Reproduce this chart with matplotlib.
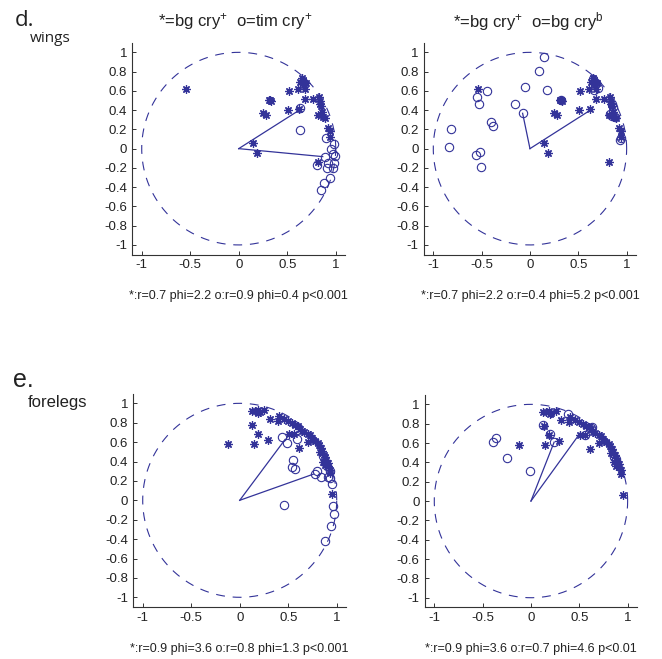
import numpy as np
import matplotlib
matplotlib.use("Agg")
import matplotlib.pyplot as plt

plt.rcParams['font.family'] = ['Liberation Sans', 'DejaVu Sans']
plt.rcParams['axes.unicode_minus'] = False
plt.rcParams['mathtext.default'] = 'regular'

BLUE = '#333399'

# wings, bg cry+ (stars, same in both top panels)
wing_bg_x = [-0.54, 0.145, 0.185, 0.31, 0.32, 0.33, 0.25, 0.28, 0.52, 0.51, 0.625,
             0.65, 0.66, 0.63, 0.67, 0.68, 0.615, 0.69, 0.68, 0.77,
             0.83, 0.84, 0.845, 0.855, 0.85, 0.87, 0.82, 0.89, 0.84,
             0.925, 0.94, 0.94, 0.82]
wing_bg_y = [0.62, 0.055, -0.05, 0.50, 0.51, 0.49, 0.37, 0.345, 0.60, 0.40, 0.41,
             0.73, 0.71, 0.69, 0.66, 0.62, 0.62, 0.68, 0.52, 0.515,
             0.54, 0.49, 0.44, 0.38, 0.35, 0.33, 0.35, 0.32, 0.46,
             0.21, 0.18, 0.125, -0.14]

# wings, tim cry+ (circles)
wing_tim_x = [0.63, 0.63, 0.90, 0.985, 0.95, 0.97, 0.99, 0.89, 0.81, 0.92, 0.98,
              0.91, 0.97, 0.94, 0.88, 0.85]
wing_tim_y = [0.425, 0.19, 0.115, 0.05, 0.0, -0.06, -0.08, -0.085, -0.17, -0.15, -0.15,
              -0.20, -0.20, -0.31, -0.36, -0.43]

# wings, bg cry^b (circles)
wing_cryb_x = [0.145, 0.09, -0.05, 0.18, -0.15, -0.076, -0.44, -0.545, -0.53, -0.40, -0.38,
               -0.82, -0.84, -0.56, -0.52, -0.51, 0.32, 0.65, 0.68, 0.70, 0.66,
               0.85, 0.86, 0.83, 0.85, 0.88, 0.94, 0.93]
wing_cryb_y = [0.955, 0.81, 0.64, 0.61, 0.46, 0.367, 0.60, 0.54, 0.46, 0.28, 0.23,
               0.20, 0.02, -0.07, -0.04, -0.19, 0.50, 0.72, 0.68, 0.63, 0.61,
               0.46, 0.43, 0.36, 0.34, 0.33, 0.11, 0.09]

# forelegs, bg cry+ (stars, same in both bottom panels)
leg_bg_x = [-0.12, 0.124, 0.158, 0.186, 0.21, 0.254, 0.192, 0.13, 0.31, 0.39, 0.19, 0.15,
            0.295, 0.61, 0.51, 0.56,
            0.40, 0.46, 0.495, 0.536, 0.57, 0.60, 0.62, 0.646, 0.667, 0.70, 0.725, 0.742,
            0.777, 0.804, 0.818, 0.838, 0.852, 0.866, 0.88, 0.89, 0.907, 0.914, 0.928, 0.935,
            0.70, 0.76, 0.83, 0.86, 0.88, 0.955]
leg_bg_y = [0.58, 0.924, 0.917, 0.935, 0.91, 0.935, 0.90, 0.78, 0.84, 0.82, 0.68, 0.58,
            0.625, 0.54, 0.68, 0.68,
            0.866, 0.84, 0.82, 0.797, 0.78, 0.763, 0.74, 0.718, 0.704, 0.684, 0.67, 0.643,
            0.615, 0.591, 0.567, 0.54, 0.505, 0.471, 0.443, 0.419, 0.385, 0.35, 0.316, 0.282,
            0.60, 0.62, 0.50, 0.40, 0.36, 0.06]

# forelegs, tim cry+ (circles)
leg_tim_x = [0.433, 0.485, 0.588, 0.55, 0.536, 0.57, 0.80, 0.78, 0.84, 0.907, 0.93, 0.93,
             0.955, 0.46, 0.965, 0.976, 0.94, 0.88, 0.86, 0.88, 0.90]
leg_tim_y = [0.65, 0.59, 0.636, 0.42, 0.34, 0.323, 0.306, 0.27, 0.244, 0.237, 0.30, 0.23,
             0.168, -0.05, -0.062, -0.137, -0.26, -0.42, 0.46, 0.40, 0.35]

# forelegs, bg cry^b (circles)
leg_cryb_x = [-0.365, -0.397, -0.245, -0.01, 0.128, 0.197, 0.24, 0.386, 0.56, 0.63, 0.86, 0.88, 0.62]
leg_cryb_y = [0.655, 0.61, 0.445, 0.307, 0.79, 0.69, 0.61, 0.90, 0.686, 0.77, 0.46, 0.43, 0.76]

# mean vectors (x, y) for stars and circles in each panel
mean_star = [(0.625, 0.40), (0.625, 0.40), (0.47, 0.63), (0.507, 0.70)]
mean_circ = [(0.866, -0.083), (-0.076, 0.367), (0.76, 0.27), (0.24, 0.61)]

titles = [r'*=bg cry$^{+}$  o=tim cry$^{+}$', r'*=bg cry$^{+}$  o=bg cry$^{b}$']
stats = ['*:r=0.7 phi=2.2 o:r=0.9 phi=0.4 p<0.001',
         '*:r=0.7 phi=2.2 o:r=0.4 phi=5.2 p<0.001',
         '*:r=0.9 phi=3.6 o:r=0.8 phi=1.3 p<0.001',
         '*:r=0.9 phi=3.6 o:r=0.7 phi=4.6 p<0.01']

xticks = [-1, -0.5, 0, 0.5, 1]
xticklabels = ['-1', '-0.5', '0', '0.5', '1']
yticks = [-1, -0.8, -0.6, -0.4, -0.2, 0, 0.2, 0.4, 0.6, 0.8, 1]
yticklabels = ['-1', '-0.8', '-0.6', '-0.4', '-0.2', '0', '0.2', '0.4', '0.6', '0.8', '1']

fig = plt.figure(figsize=(6.62, 6.59), dpi=100)

positions = [[0.1994, 0.6137, 0.3224, 0.3215],
             [0.6399, 0.6137, 0.3213, 0.3215],
             [0.2009, 0.0789, 0.3224, 0.3238],
             [0.6414, 0.0783, 0.3213, 0.3228]]

panels = [(wing_bg_x, wing_bg_y, wing_tim_x, wing_tim_y),
          (wing_bg_x, wing_bg_y, wing_cryb_x, wing_cryb_y),
          (leg_bg_x, leg_bg_y, leg_tim_x, leg_tim_y),
          (leg_bg_x, leg_bg_y, leg_cryb_x, leg_cryb_y)]

theta = np.linspace(0, 2 * np.pi, 400)
for i, (sx, sy, cx, cy) in enumerate(panels):
    ax = fig.add_axes(positions[i])
    ax.plot(np.cos(theta), np.sin(theta), '--', color=BLUE, lw=0.8, dashes=(8, 7))
    ax.plot(sx, sy, linestyle='none', marker=(8, 2, 0), ms=6, color=BLUE, mew=0.9)
    ax.plot(cx, cy, linestyle='none', marker='o', ms=6, mfc='none', mec=BLUE, mew=0.8)
    ax.plot([0, mean_star[i][0]], [0, mean_star[i][1]], color=BLUE, lw=0.9)
    ax.plot([0, mean_circ[i][0]], [0, mean_circ[i][1]], color=BLUE, lw=0.9)
    ax.set_xlim(-1.1, 1.1)
    ax.set_ylim(-1.1, 1.1)
    ax.set_xticks(xticks)
    ax.set_xticklabels(xticklabels)
    ax.set_yticks(yticks)
    ax.set_yticklabels(yticklabels)
    for s in ['top', 'right']:
        ax.spines[s].set_visible(False)
    for s in ['left', 'bottom']:
        ax.spines[s].set_color('#333333')
        ax.spines[s].set_linewidth(0.8)
    ax.tick_params(direction='in', length=3, width=0.7, colors='#333333',
                   labelsize=9.5, labelcolor='#222222')
    cxp = positions[i][0] + positions[i][2] / 2
    ybase = positions[i][1]
    fig.text(cxp, ybase - 0.063, stats[i], ha='center', va='center', fontsize=9, color='#222222')

fig.text(235 / 662, 1 - 22 / 659, titles[0], ha='center', va='center', fontsize=12, color='#222222')
fig.text(528 / 662, 1 - 22 / 659, titles[1], ha='center', va='center', fontsize=12, color='#222222')

fig.text(15 / 662, 1 - 20 / 659, 'd.', ha='left', va='center', fontsize=16,
         family=['Open Sans', 'DejaVu Sans'], color='#222222')
fig.text(30 / 662, 1 - 39 / 659, 'wings', ha='left', va='center', fontsize=11,
         family=['Open Sans', 'DejaVu Sans'], color='#222222')
fig.text(13 / 662, 1 - 380 / 659, 'e.', ha='left', va='center', fontsize=18, color='#222222')
fig.text(28 / 662, 1 - 403 / 659, 'forelegs', ha='left', va='center', fontsize=12, color='#222222')

fig.savefig('out.png', dpi=100)
